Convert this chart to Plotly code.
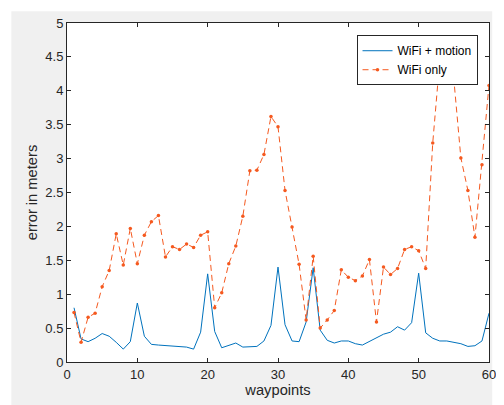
import plotly.graph_objects as go

waypoints = list(range(1, 61))

wifi_motion = [
    0.80, 0.34, 0.30, 0.35, 0.42, 0.38, 0.29, 0.19, 0.30, 0.87,
    0.38, 0.26, 0.25, 0.24, 0.24, 0.23, 0.22, 0.19, 0.44, 1.30,
    0.45, 0.21, 0.24, 0.28, 0.22, 0.23, 0.23, 0.31, 0.54, 1.40,
    0.55, 0.31, 0.30, 0.59, 1.39, 0.47, 0.32, 0.28, 0.31, 0.31,
    0.27, 0.25, 0.30, 0.35, 0.41, 0.44, 0.52, 0.47, 0.58, 1.31,
    0.43, 0.35, 0.31, 0.31, 0.29, 0.27, 0.23, 0.24, 0.31, 0.72,
]

wifi_only = [
    0.73, 0.29, 0.66, 0.72, 1.11, 1.35, 1.89, 1.43, 1.97, 1.45,
    1.87, 2.07, 2.16, 1.55, 1.70, 1.66, 1.74, 1.69, 1.87, 1.92,
    0.80, 1.02, 1.45, 1.71, 2.15, 2.82, 2.83, 3.06, 3.62, 3.47,
    2.53, 1.99, 1.44, 0.62, 1.56, 0.50, 0.62, 0.76, 1.36, 1.25,
    1.20, 1.27, 1.51, 0.59, 1.40, 1.29, 1.38, 1.66, 1.70, 1.64,
    1.38, 3.23, 4.45, 4.50, 4.17, 3.01, 2.53, 1.84, 2.91, 4.08,
]

x_ticks = [0, 10, 20, 30, 40, 50, 60]
y_ticks = [0, 0.5, 1, 1.5, 2, 2.5, 3, 3.5, 4, 4.5, 5]
y_tick_labels = ["0", "0.5", "1", "1.5", "2", "2.5", "3", "3.5", "4", "4.5", "5"]

# the page body adds an 8px margin; work in reference pixels minus that offset
OFF = 8
W, H = 504 - OFF, 405 - OFF
L, R, T, B = 66.7 - OFF, 496.7 - OFF, 20.7 - OFF, 361.7 - OFF
pw, ph = R - L, B - T

def px_x(p):
    return (p - OFF - L) / pw

def px_y(p):
    return (B - (p - OFF)) / ph

axis_color = "#262626"
font_family = "Liberation Sans, Arial, sans-serif"

fig = go.Figure()
fig.add_trace(go.Scatter(
    x=waypoints, y=wifi_motion, mode="lines", name="WiFi + motion",
    line=dict(color="#0072BD", width=1),
))
fig.add_trace(go.Scatter(
    x=waypoints, y=wifi_only, mode="lines+markers", name="WiFi only",
    line=dict(color="#F5591F", width=1, dash="6px,4px"),
    marker=dict(color="#F5591F", size=3.5),
))

fig.update_layout(
    width=W, height=H,
    margin=dict(l=L, r=W - R, t=T, b=H - B, pad=0),
    paper_bgcolor="white",
    plot_bgcolor="white",
    font=dict(family=font_family, size=13, color=axis_color),
    showlegend=True,
    legend=dict(
        x=px_x(485), y=px_y(33), xanchor="right", yanchor="top",
        bgcolor="white", bordercolor="#262626", borderwidth=1,
        font=dict(size=12, color="#000000"),
        tracegroupgap=0,
    ),
    shapes=[
        dict(type="rect", xref="paper", yref="paper",
             x0=px_x(10), x1=px_x(500), y0=px_y(410), y1=px_y(9),
             fillcolor="#F0F0F0", line=dict(width=0), layer="below"),
        dict(type="rect", xref="paper", yref="paper",
             x0=0, x1=1, y0=0, y1=1,
             fillcolor="white", line=dict(width=0), layer="below"),
    ],
)

fig.update_xaxes(
    range=[0, 60], tickvals=x_ticks, ticks="inside", ticklen=4, tickwidth=1,
    tickcolor=axis_color, showline=True, linecolor=axis_color, linewidth=1,
    mirror="ticks", showgrid=False, zeroline=False,
    title=dict(text="waypoints", font=dict(size=14.7), standoff=4),
    tickfont=dict(size=13),
)
fig.update_yaxes(
    range=[0, 5], tickvals=y_ticks, ticktext=y_tick_labels, ticks="inside",
    ticklen=4, tickwidth=1, tickcolor=axis_color, showline=True,
    linecolor=axis_color, linewidth=1, mirror="ticks", showgrid=False,
    zeroline=False,
    title=dict(text="error in meters", font=dict(size=14.7), standoff=4),
    tickfont=dict(size=13),
)

fig.write_html("out.html")
